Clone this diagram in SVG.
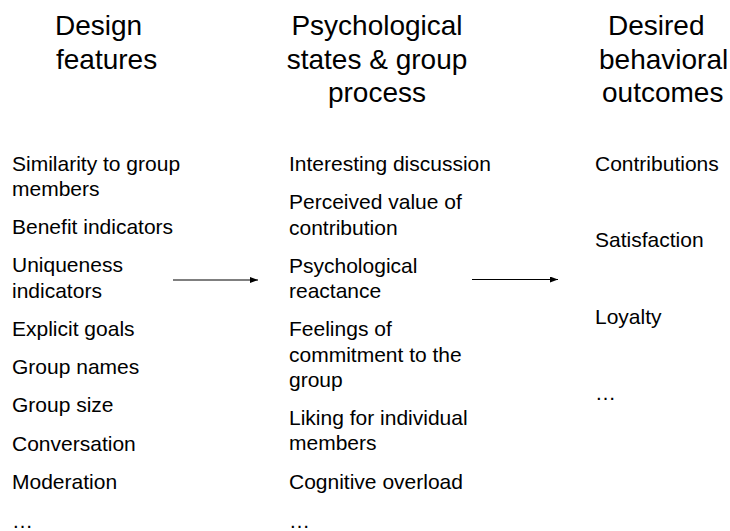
<svg xmlns="http://www.w3.org/2000/svg" width="730" height="531" viewBox="0 0 730 531">
  <style>
    text { font-family: "Liberation Sans", Arial, sans-serif; fill: #000; }
    .head { font-size: 28px; }
    .item { font-size: 21px; }
    .conn { stroke: #000; stroke-width: 1.2; fill: none; }
  </style>
  <defs>
    <marker id="arrow" viewBox="0 0 8 6" refX="8" refY="3" markerWidth="8" markerHeight="6" markerUnits="userSpaceOnUse" orient="auto">
      <path d="M0,0 L8,3 L0,6 Z" fill="#000"/>
    </marker>
  </defs>
  <rect width="730" height="531" fill="#fff"/>

  <!-- Column 1: design features -->
  <g id="design-features">
    <text class="head" x="55" y="35">Design</text>
    <text class="head" x="56" y="68.5">features</text>
    <text class="item" x="12" y="171">Similarity to group</text>
    <text class="item" x="12" y="196">members</text>
    <text class="item" x="12" y="234">Benefit indicators</text>
    <text class="item" x="12" y="272">Uniqueness</text>
    <text class="item" x="12" y="297.5">indicators</text>
    <text class="item" x="12" y="335.5">Explicit goals</text>
    <text class="item" x="12" y="374">Group names</text>
    <text class="item" x="12" y="412.3">Group size</text>
    <text class="item" x="12" y="450.6">Conversation</text>
    <text class="item" x="12" y="489">Moderation</text>
    <text class="item" x="12" y="528">…</text>
  </g>

  <!-- Column 2: psychological states & group process -->
  <g id="psychological-states">
    <text class="head" x="377" y="35" text-anchor="middle">Psychological</text>
    <text class="head" x="377" y="68.5" text-anchor="middle">states &amp; group</text>
    <text class="head" x="377" y="102" text-anchor="middle">process</text>
    <text class="item" x="289" y="171">Interesting discussion</text>
    <text class="item" x="289" y="209.2">Perceived value of</text>
    <text class="item" x="289" y="234.5">contribution</text>
    <text class="item" x="289" y="272.7">Psychological</text>
    <text class="item" x="289" y="298">reactance</text>
    <text class="item" x="289" y="336.2">Feelings of</text>
    <text class="item" x="289" y="361.5">commitment to the</text>
    <text class="item" x="289" y="386.8">group</text>
    <text class="item" x="289" y="425">Liking for individual</text>
    <text class="item" x="289" y="450.3">members</text>
    <text class="item" x="289" y="488.8">Cognitive overload</text>
    <text class="item" x="289" y="528">…</text>
  </g>

  <!-- Column 3: desired behavioral outcomes -->
  <g id="desired-outcomes">
    <text class="head" x="608" y="35">Desired</text>
    <text class="head" x="599" y="68.5">behavioral</text>
    <text class="head" x="602" y="102">outcomes</text>
    <text class="item" x="595" y="171">Contributions</text>
    <text class="item" x="595" y="247.4">Satisfaction</text>
    <text class="item" x="595" y="323.8">Loyalty</text>
    <text class="item" x="595" y="400">…</text>
  </g>

  <!-- Connectors between columns -->
  <g id="connectors">
    <line class="conn" x1="173" y1="280" x2="258" y2="280" marker-end="url(#arrow)"/>
    <line class="conn" x1="472" y1="279.5" x2="558" y2="279.5" marker-end="url(#arrow)"/>
  </g>
</svg>
